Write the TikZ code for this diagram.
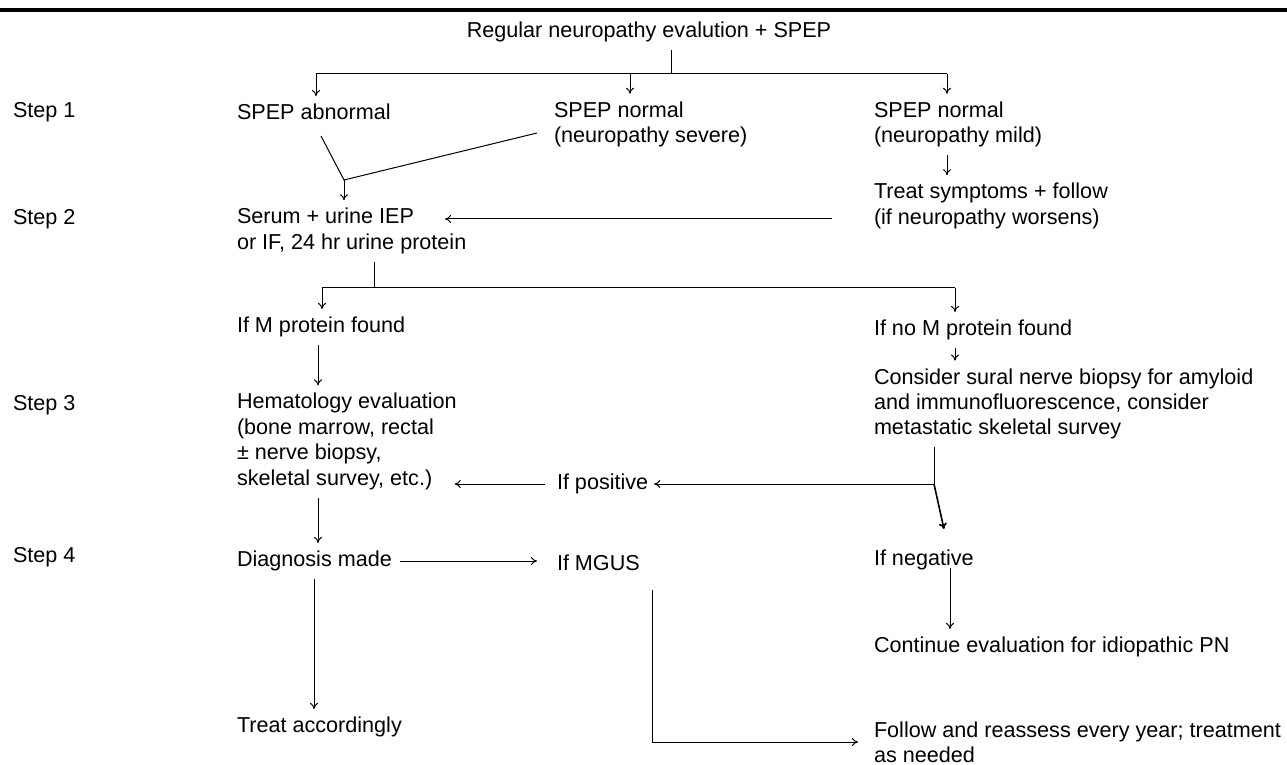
\documentclass[tikz,border=0pt]{standalone}
\usepackage{fontspec}
\setmainfont{Liberation Sans}
\usepackage{tikz}
\usetikzlibrary{arrows.meta}
\tikzstyle{txt} = [anchor=west, align=left, inner sep=0pt, outer xsep=0pt, outer ysep=4pt, font=\fontsize{10.8}{12.7}\selectfont]
\tikzstyle{line} = [line width=0.5pt]
\tikzstyle{arrow} = [line width=0.5pt,->,>={To[length=3pt,width=4pt]}]

\begin{document}
\begin{tikzpicture}[x=0.5pt,y=-0.5pt]
\useasboundingbox (0,0) rectangle (1287,765);
\draw[line width=2pt] (0,10) -- (1287,10);

% steps
\node (step1)[txt] at (13,112) {Step 1};
\node (step2)[txt] at (13,219) {Step 2};
\node (step3)[txt] at (13,405) {Step 3};
\node (step4)[txt] at (13,557) {Step 4};

% texts
\node (start)[txt, anchor=center] at (649,32) {Regular neuropathy evalution + SPEP};
\node (abnormal)[txt] at (237,112) {SPEP abnormal};
\node (severe)[txt] at (554,124.5) {SPEP normal\\(neuropathy severe)};
\node (mild)[txt] at (874,124.5) {SPEP normal\\(neuropathy mild)};
\node (symptoms)[txt] at (874,206) {Treat symptoms + follow\\(if neuropathy worsens)};
\node (iep)[txt] at (237,231) {Serum + urine IEP\\or IF, 24 hr urine protein};
\node (mfound)[txt] at (237,327) {If M protein found};
\node (nomfound)[txt] at (874,330) {If no M protein found};
\node (hemato)[txt] at (237,441.5) {Hematology evaluation\\(bone marrow, rectal\\± nerve biopsy,\\skeletal survey, etc.)};
\node (sural)[txt] at (874,404) {Consider sural nerve biopsy for amyloid\\and immunofluorescence, consider\\metastatic skeletal survey};
\node (positive)[txt] at (557,484) {If positive};
\node (diagnosis)[txt] at (237,561) {Diagnosis made};
\node (mgus)[txt] at (557,563) {If MGUS};
\node (negative)[txt] at (874,560) {If negative};
\node (idiopathic)[txt] at (874,647) {Continue evaluation for idiopathic PN};
\node (accordingly)[txt] at (237,727) {Treat accordingly};
\node (reassess)[txt] at (874,742) {Follow and reassess every year; treatment\\as needed};

% junctions
\coordinate (fork1) at (671,74);
\coordinate (b1) at (316,74);
\coordinate (b2) at (630,74);
\coordinate (b3) at (947,74);
\coordinate (abnout) at (321,136);
\coordinate (sevout) at (537,133);
\coordinate (join1) at (344,180);
\coordinate (worse) at (832,219);
\coordinate (iepin) at (445,219);
\coordinate (fork2) at (374,288);
\coordinate (c1) at (322,288);
\coordinate (c2) at (955,288);
\coordinate (split) at (934,484);
\coordinate (negin) at (944,529);
\coordinate (negout) at (950,568);
\coordinate (mgusout) at (652,590);

\draw[line] (fork1 |- start.south) -- (fork1);
\draw[line] (b1) -- (b3);
\draw[arrow] (b1) -- (b1 |- abnormal.north);
\draw[arrow] (b2) -- (b2 |- severe.north);
\draw[arrow] (b3) -- (b3 |- mild.north);
\draw[line] (abnout) -- (join1) -- (sevout);
\draw[arrow] (join1) -- (join1 |- iep.north);
\draw[arrow] (mild.south -| b3) -- (symptoms.north -| b3);
\draw[arrow] (worse) -- (iepin);
\draw[line] (fork2 |- iep.south) -- (fork2);
\draw[line] (c1) -- (c2);
\draw[arrow] (c1) -- (c1 |- mfound.north);
\draw[arrow] (c2) -- (c2 |- nomfound.north);
\draw[arrow] (mfound.south -| 318,0) -- (hemato.north -| 318,0);
\draw[arrow] (nomfound.south -| c2) -- (sural.north -| c2);
\draw[line] (sural.south -| split) -- (split);
\draw[arrow, shorten >=3pt] (split) -- (positive.east);
\draw[arrow, line width=0.8pt] (split) -- (negin);
\draw[arrow, shorten <=6pt, shorten >=-1pt] (positive.west) -- (positive.west -| hemato.east);
\draw[arrow] (hemato.south -| 318,0) -- (diagnosis.north -| 318,0);
\draw[arrow, shorten <=4pt, shorten >=10pt] (diagnosis.east) -- (diagnosis.east -| mgus.west);
\draw[arrow] (diagnosis.south -| 314,0) -- (accordingly.north -| 314,0);
\draw[arrow] (negout) -- (negout |- idiopathic.north);
\draw[arrow, shorten >=8pt] (mgusout) |- (reassess.west);
\end{tikzpicture}
\end{document}
